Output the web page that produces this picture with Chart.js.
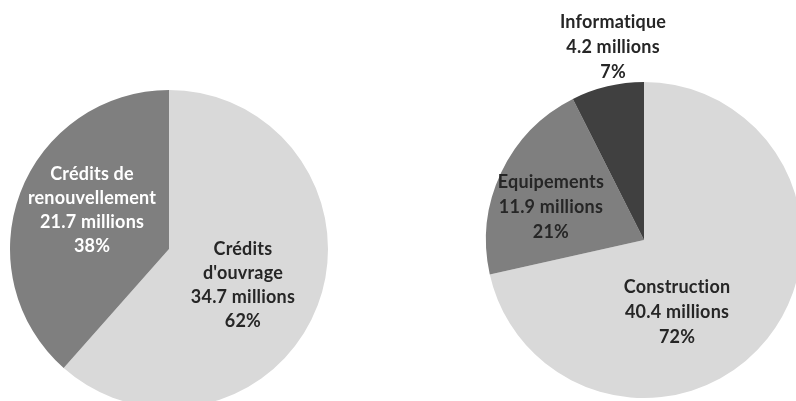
<!DOCTYPE html>
<html>
<head>
<meta charset="utf-8">
<script src="https://cdn.jsdelivr.net/npm/chart.js@4"></script>
<style>
  html, body { margin: 0; padding: 0; background: #fff; width: 796px; height: 401px; overflow: hidden; }
  canvas { position: absolute; }
  #left { left: 0; top: 0; }
  #right { left: 444px; top: 0; }
</style>
</head>
<body>
<canvas id="left" width="340" height="420"></canvas>
<canvas id="right" width="400" height="480"></canvas>
<script>
// ---- data ----
const leftCategories = [["Crédits", "d'ouvrage"], ["Crédits de", "renouvellement"]];
const leftValues = [34.7, 21.7];
const leftPercents = ["62%", "38%"];

const rightCategories = [["Construction"], ["Equipements"], ["Informatique"]];
const rightValues = [40.4, 11.9, 4.2];
const rightPercents = ["72%", "21%", "7%"];

// ---- style / layout ----
const LIGHT = '#d9d9d9', MID = '#7f7f7f', DARK = '#404040';
const TEXT_DARK = '#262626';

const labelPlugin = {
  id: 'sliceLabels',
  afterDatasetsDraw(chart) {
    const o = chart.options.plugins.sliceLabels;
    const ctx = chart.ctx;
    const meta = chart.getDatasetMeta(0);
    const ds = chart.data.datasets[0];
    ctx.save();
    ctx.font = o.font;
    if ('letterSpacing' in ctx) ctx.letterSpacing = '0.2px';
    ctx.textAlign = 'center';
    ctx.textBaseline = 'middle';
    meta.data.forEach((arc, i) => {
      const r = arc.outerRadius;
      const x = arc.x + o.offsets[i][0] * r;
      const y = arc.y + o.offsets[i][1] * r;
      const lines = chart.data.labels[i].concat([ds.data[i] + ' millions', o.percents[i]]);
      ctx.fillStyle = o.colors[i];
      const lh = o.lineHeight;
      const y0 = y - (lines.length - 1) * lh / 2;
      lines.forEach((t, k) => ctx.fillText(t, x, y0 + k * lh));
    });
    ctx.restore();
  }
};

function makePie(id, labels, values, colors, padding, pluginOpts) {
  return new Chart(document.getElementById(id), {
    type: 'pie',
    data: {
      labels: labels,
      datasets: [{ data: values, backgroundColor: colors, borderWidth: 0 }]
    },
    options: {
      responsive: false,
      animation: false,
      layout: { padding: padding },
      plugins: {
        legend: { display: false },
        tooltip: { enabled: false },
        sliceLabels: pluginOpts
      }
    },
    plugins: [labelPlugin]
  });
}

const FONT = 'bold 18px Lato';

makePie('left', leftCategories, leftValues, [LIGHT, MID],
  { left: 10, right: 12, top: 90, bottom: 12 },
  { font: FONT, lineHeight: 24, percents: leftPercents,
    colors: [TEXT_DARK, '#ffffff'],
    offsets: [[0.465, 0.226], [-0.484, -0.245]] });

makePie('right', rightCategories, rightValues, [LIGHT, MID, DARK],
  { left: 42, right: 42, top: 82, bottom: 82 },
  { font: FONT, lineHeight: 25, percents: rightPercents,
    colors: [TEXT_DARK, TEXT_DARK, TEXT_DARK],
    offsets: [[0.209, 0.456], [-0.589, -0.209], [-0.196, -1.22]] });
</script>
</body>
</html>
